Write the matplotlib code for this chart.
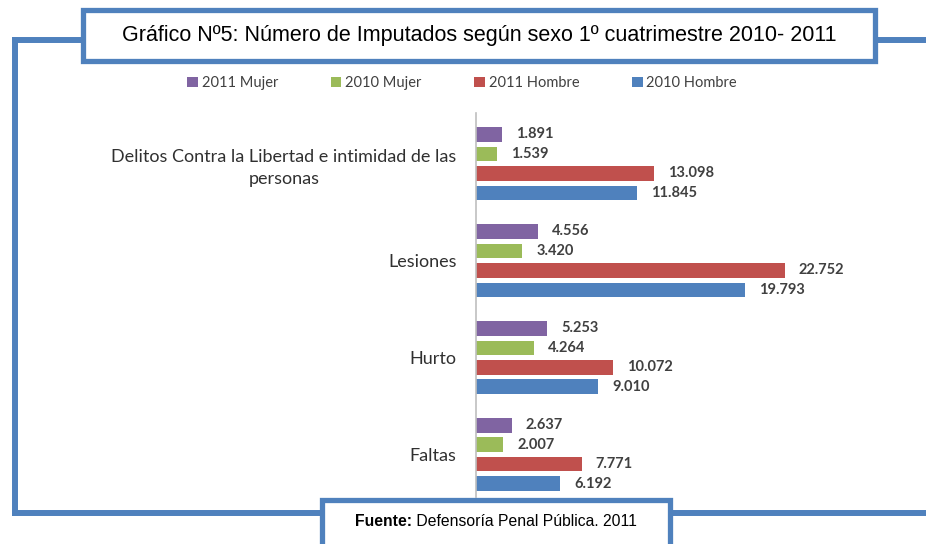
import numpy as np
import matplotlib.pyplot as plt
from matplotlib.patches import Rectangle, Patch
from matplotlib.lines import Line2D

# data
categorias = ['Delitos Contra la Libertad e intimidad de las\npersonas',
              'Lesiones', 'Hurto', 'Faltas']
series = ['2011 Mujer', '2010 Mujer', '2011 Hombre', '2010 Hombre']
mujer_2011 = [1891, 4556, 5253, 2637]
mujer_2010 = [1539, 3420, 4264, 2007]
hombre_2011 = [13098, 22752, 10072, 7771]
hombre_2010 = [11845, 19793, 9010, 6192]
colores = ['#8064A2', '#9BBB59', '#C0504D', '#4F81BD']

W, H = 926, 544
azul = '#4F81BD'

fig = plt.figure(figsize=(W / 100, H / 100), dpi=100)

def fx(x):
    return x / W

def fy(y):
    return 1 - y / H

# outer frame lines
for xs, ys in [([15, 15], [40, 513]), ([15, 926], [40, 40]), ([15, 926], [513, 513])]:
    fig.add_artist(Line2D([fx(v) for v in xs], [fy(v) for v in ys], color=azul,
                          lw=4.3, transform=fig.transFigure, zorder=1,
                          solid_capstyle='projecting'))

# title box and source box
fig.add_artist(Rectangle((fx(82.5), fy(61)), fx(875) - fx(82.5), fy(10) - fy(61),
                         facecolor='white', edgecolor=azul, lw=3.8,
                         transform=fig.transFigure, zorder=2))
fig.add_artist(Rectangle((fx(322), fy(560)), fx(670) - fx(322), fy(500) - fy(560),
                         facecolor='white', edgecolor=azul, lw=3.8,
                         transform=fig.transFigure, zorder=2))

fig.text(fx(479), fy(35), 'Gráfico Nº5: Número de Imputados según sexo 1º cuatrimestre 2010- 2011',
         ha='center', va='center', fontsize=15.5, family='Liberation Sans', zorder=3)
fig.text(fx(412), fy(521), 'Fuente:', ha='right', va='center', fontsize=11.3,
         fontweight='bold', family='Liberation Sans', zorder=3)
fig.text(fx(412), fy(521), ' Defensoría Penal Pública. 2011', ha='left', va='center',
         fontsize=11.3, family='Liberation Sans', zorder=3)

# bar chart
ax = fig.add_axes([fx(476), fy(497), fx(876) - fx(476), fy(113) - fy(497)])
ax.patch.set_alpha(0)
paso = 19.5 / 97
alto = 14.5 / 97
y = np.arange(len(categorias))
valores = [mujer_2011, mujer_2010, hombre_2011, hombre_2010]
for i, (vals, col) in enumerate(zip(valores, colores)):
    pos = y + (i - 1.5) * paso
    ax.barh(pos, vals, height=alto, color=col, edgecolor='none')
    for p, v in zip(pos, vals):
        ax.annotate('{:,}'.format(v).replace(',', '.'), (v, p), xytext=(10, 0),
                    textcoords='offset points', va='center', ha='left',
                    fontsize=10.5, fontweight='bold', color='#404040', family='Lato')

ax.set_xlim(0, 400 / (309 / 22752))
ax.set_ylim((497 - 163.5) / 97, -(163.5 - 113) / 97)
ax.set_yticks(y)
ax.set_yticklabels(categorias, fontsize=13, family='Lato', color='#303030')
for lab in ax.get_yticklabels():
    lab.set_multialignment('center')
    lab.set_linespacing(1.45)
ax.tick_params(axis='y', length=0, pad=14)
ax.set_xticks([])
for s in ['top', 'right', 'bottom']:
    ax.spines[s].set_visible(False)
ax.spines['left'].set_color('#BFBFBF')
ax.spines['left'].set_linewidth(1.2)

# legend
handles = [Patch(facecolor=c, edgecolor='none') for c in colores]
fig.legend(handles, series, loc='center', bbox_to_anchor=(fx(462), fy(83)), ncol=4,
           frameon=False, handlelength=0.75, handleheight=0.75, handletextpad=0.25,
           columnspacing=3.6, prop={'family': 'Lato', 'size': 10.5},
           labelcolor='#404040')

fig.savefig('out.png', dpi=100)
